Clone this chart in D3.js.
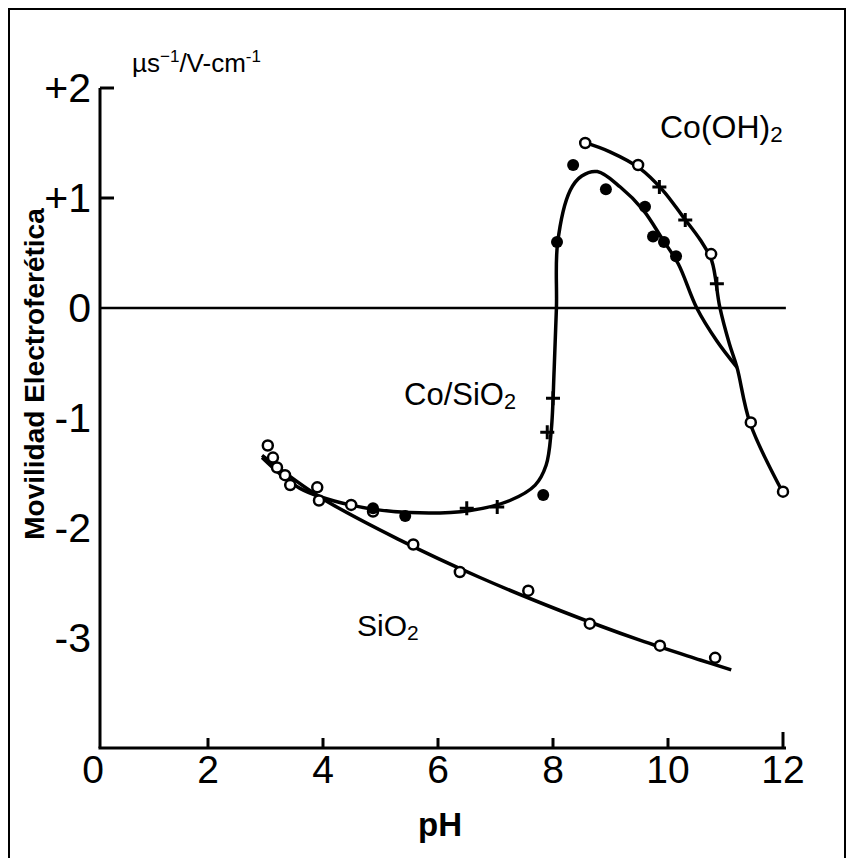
<!DOCTYPE html>
<html>
<head>
<meta charset="utf-8">
<script src="https://cdn.jsdelivr.net/npm/d3@7"></script>
<style>
  body { margin: 0; background: #fff; }
  svg text { font-family: "Liberation Sans", Arial, sans-serif; fill: #000; }
</style>
</head>
<body>
<svg id="chart" width="853" height="858"></svg>
<script>
// --- data (pH, mobility) ---
const xTicks = [0, 2, 4, 6, 8, 10, 12];
const yTicks = [2, 1, 0, -1, -2, -3];
const yTickLabels = ['+2', '+1', '0', '-1', '-2', '-3'];

// fitted curves
const coOHCurve = [[8.52, 1.51], [8.99, 1.42], [9.51, 1.27], [9.91, 1.07], [10.26, 0.83], [10.56, 0.62],
  [10.76, 0.43], [10.9, 0.01], [11.07, -0.33], [11.2, -0.54], [11.43, -1.05], [12.0, -1.68]];
const coSiCurve = [[2.94, -1.36], [3.6, -1.64], [4.47, -1.79], [5.51, -1.86], [6.56, -1.84], [7.25, -1.75],
  [7.69, -1.61], [7.88, -1.43], [7.97, -1.11], [8.02, -0.56], [8.06, 0.01], [8.08, 0.59], [8.3, 1.07],
  [8.5, 1.2], [8.77, 1.24], [9.17, 1.1], [9.57, 0.89], [9.91, 0.62], [10.18, 0.4], [10.5, 0.0],
  [10.85, -0.3], [11.2, -0.54]];
const siCurve = [[2.94, -1.34], [3.95, -1.72], [5.34, -2.11], [6.73, -2.45], [8.12, -2.75], [9.51, -3.02],
  [10.56, -3.2], [11.1, -3.29]];

// measured points
const coOHOpen = [[8.56, 1.50], [9.48, 1.30], [10.75, 0.49], [11.44, -1.04], [12.0, -1.67]];
const coOHPlus = [[9.85, 1.1], [10.3, 0.8], [10.85, 0.22]];
const coSiFilled = [[8.35, 1.30], [8.07, 0.60], [8.92, 1.08], [9.6, 0.92], [9.74, 0.65], [9.93, 0.60],
  [10.14, 0.47], [7.83, -1.70], [5.43, -1.89], [4.87, -1.82]];
const coSiPlus = [[8.0, -0.82], [7.9, -1.13], [7.03, -1.81], [6.5, -1.82]];
const siOpen = [[3.04, -1.25], [3.13, -1.36], [3.2, -1.45], [3.34, -1.52], [3.43, -1.61], [3.9, -1.63],
  [3.93, -1.75], [4.49, -1.79], [4.87, -1.85], [5.57, -2.15], [6.38, -2.4], [7.57, -2.57], [8.64, -2.87],
  [9.86, -3.07], [10.82, -3.18]];

const svg = d3.select('#chart');

// outer frame
svg.append('rect')
  .attr('x', 9).attr('y', 9).attr('width', 836).attr('height', 870)
  .attr('fill', 'none').attr('stroke', '#000').attr('stroke-width', 2);

const x = d3.scaleLinear().domain([0, 12]).range([93, 783]);
const y = d3.scaleLinear().domain([-4, 2]).range([748, 88]);
const axisX = 100;   // y axis line sits a bit right of pH 0

// axes lines
svg.append('line').attr('x1', axisX).attr('x2', axisX).attr('y1', y(2)).attr('y2', y(-4))
  .attr('stroke', '#000').attr('stroke-width', 3);
svg.append('line').attr('x1', axisX - 1.5).attr('x2', x(12) + 3).attr('y1', y(-4)).attr('y2', y(-4))
  .attr('stroke', '#000').attr('stroke-width', 3);

// x ticks and labels
svg.append('g').selectAll('line').data(xTicks.filter(d => d > 0)).enter().append('line')
  .attr('x1', d => x(d)).attr('x2', d => x(d))
  .attr('y1', y(-4)).attr('y2', d => y(-4) - (d === 12 ? 16 : 10))
  .attr('stroke', '#000').attr('stroke-width', 3);
svg.append('g').selectAll('text').data(xTicks).enter().append('text')
  .attr('x', d => x(d)).attr('y', 783)
  .attr('text-anchor', 'middle')
  .style('font-family', '"Liberation Sans Narrow", "Liberation Sans", Arial, sans-serif')
  .attr('font-size', 39)
  .text(d => d);

// y ticks and labels
svg.append('g').selectAll('line').data(yTicks.filter(d => d > 0)).enter().append('line')
  .attr('x1', axisX).attr('x2', axisX + 14)
  .attr('y1', d => y(d)).attr('y2', d => y(d))
  .attr('stroke', '#000').attr('stroke-width', 3);
svg.append('g').selectAll('text').data(yTicks).enter().append('text')
  .attr('x', 91).attr('y', d => y(d) + 14)
  .attr('text-anchor', 'end')
  .attr('font-size', 41)
  .text((d, i) => yTickLabels[i]);

// zero line
svg.append('line').attr('x1', axisX).attr('x2', x(12.05)).attr('y1', y(0)).attr('y2', y(0))
  .attr('stroke', '#000').attr('stroke-width', 2.5);

// curves
const line = d3.line().x(d => x(d[0])).y(d => y(d[1])).curve(d3.curveCatmullRom.alpha(0.5));
[coOHCurve, coSiCurve, siCurve].forEach(c => {
  svg.append('path').attr('d', line(c))
    .attr('fill', 'none').attr('stroke', '#000').attr('stroke-width', 3.5);
});

// markers
function openCircles(data) {
  svg.append('g').selectAll('circle').data(data).enter().append('circle')
    .attr('cx', d => x(d[0])).attr('cy', d => y(d[1])).attr('r', 5)
    .attr('fill', '#fff').attr('stroke', '#000').attr('stroke-width', 2.5);
}
function filledCircles(data) {
  svg.append('g').selectAll('circle').data(data).enter().append('circle')
    .attr('cx', d => x(d[0])).attr('cy', d => y(d[1])).attr('r', 6)
    .attr('fill', '#000');
}
function plusMarks(data) {
  const g = svg.append('g').selectAll('g').data(data).enter().append('g')
    .attr('transform', d => `translate(${x(d[0])},${y(d[1])})`);
  g.append('path').attr('d', 'M-7,0H7M0,-7V7').attr('stroke', '#000').attr('stroke-width', 3);
}
openCircles(siOpen);
filledCircles(coSiFilled);
plusMarks(coSiPlus);
plusMarks(coOHPlus);
openCircles(coOHOpen);

// series labels
function chem(xp, yp, parts, size) {
  const t = svg.append('text').attr('x', xp).attr('y', yp).attr('font-size', size);
  parts.forEach(p => {
    const s = t.append('tspan').text(p[0]);
    if (p[1]) s.attr('font-size', size * 0.7).attr('dy', 4);
  });
}
chem(660, 138, [['Co(OH)'], ['2', true]], 32);
chem(404, 405, [['Co/SiO'], ['2', true]], 31);
chem(357, 636, [['SiO'], ['2', true]], 30);

// units
const u = svg.append('text').attr('x', 132).attr('y', 72).attr('font-size', 26);
u.append('tspan').text('\u00b5s');
u.append('tspan').text('\u22121').attr('font-size', 17).attr('dy', -10);
u.append('tspan').text('/V-cm').attr('font-size', 26).attr('dy', 10);
u.append('tspan').text('-1').attr('font-size', 17).attr('dy', -10);

// axis titles
svg.append('text')
  .attr('transform', `translate(44,${y(-0.6)}) rotate(-90)`)
  .attr('text-anchor', 'middle')
  .attr('font-size', 28).attr('font-weight', 'bold')
  .text('Movilidad Electroferética');
svg.append('text')
  .attr('x', 440).attr('y', 836)
  .attr('text-anchor', 'middle')
  .attr('font-size', 33).attr('font-weight', 'bold')
  .text('pH');
</script>
</body>
</html>
